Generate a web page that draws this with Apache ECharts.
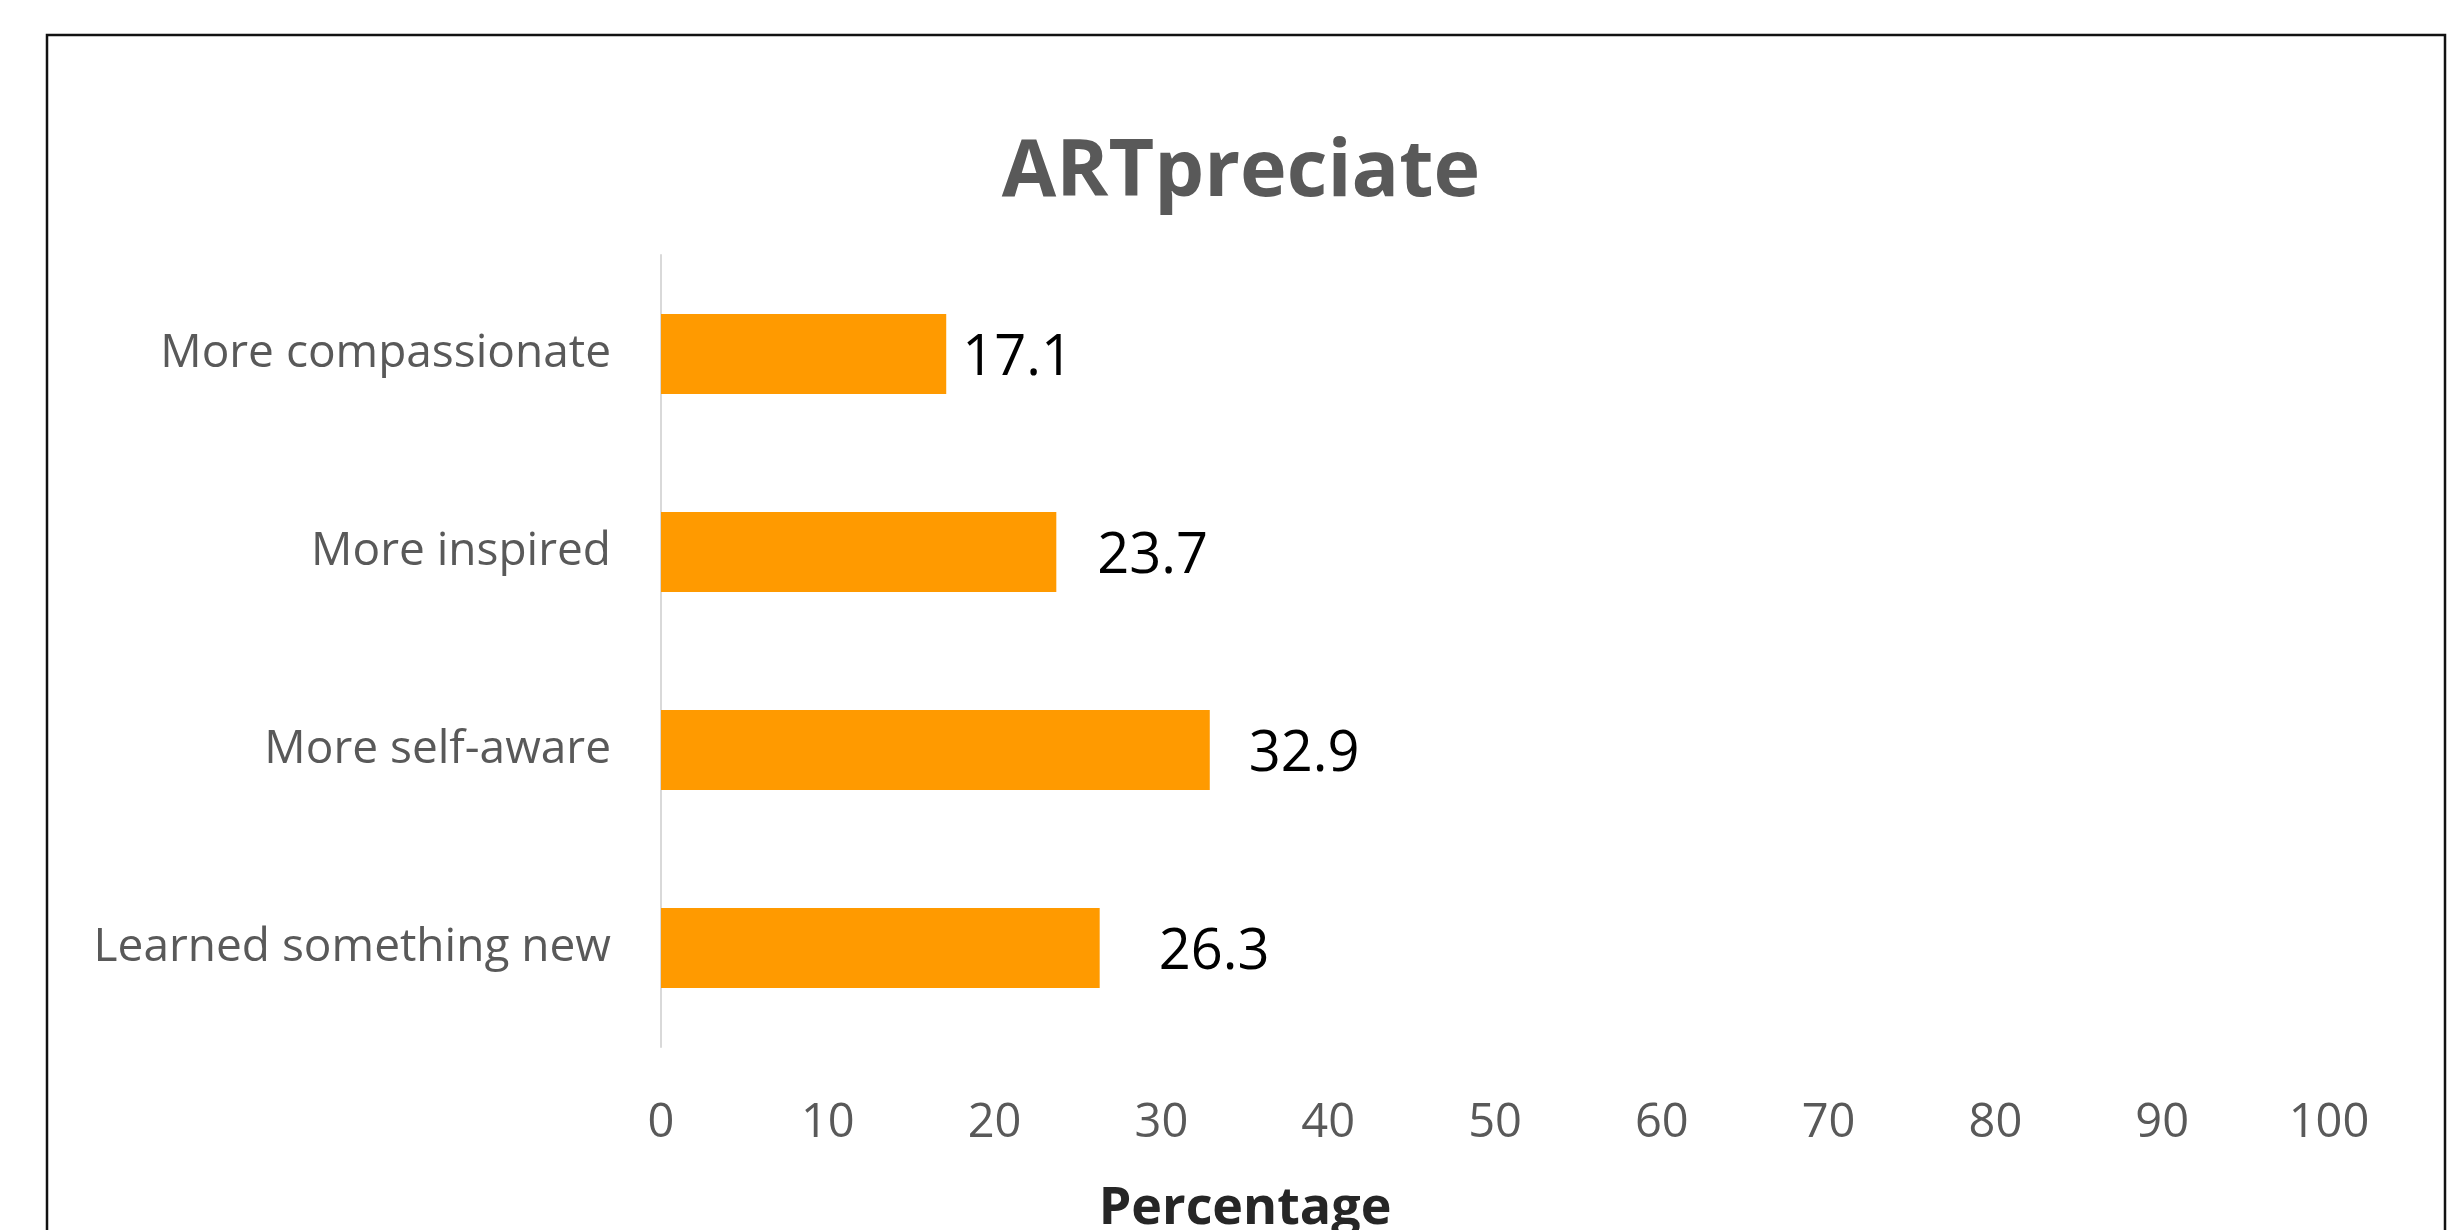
<!DOCTYPE html>
<html>
<head>
<meta charset="utf-8">
<script src="https://cdn.jsdelivr.net/npm/echarts@6/dist/echarts.min.js"></script>
<style>
  html, body { margin: 0; padding: 0; background: #fff; }
  #chart { width: 2462px; height: 1230px; }
</style>
</head>
<body>
<div id="chart"></div>
<script>
  'use strict';

  // data, top to bottom as in the picture
  const categories = ['More compassionate', 'More inspired', 'More self-aware', 'Learned something new'];
  const percentages = [17.1, 23.7, 32.9, 26.3];
  const xTicks = [0, 100, 10]; // min, max, step

  // gap between bar end and its value label (labels were moved by hand)
  const labelGaps = [16, 41, 39, 59];

  const font = '"Open Sans", "Noto Sans", sans-serif';
  const chart = echarts.init(document.getElementById('chart'), null, { renderer: 'canvas' });

  chart.setOption({
    animation: false,
    backgroundColor: '#fff',
    textStyle: { fontFamily: font },
    title: {
      text: 'ARTpreciate',
      left: 1236,
      top: 129,
      textAlign: 'center',
      textStyle: { fontFamily: font, fontSize: 79, fontWeight: 'bold', color: '#595959' }
    },
    graphic: [
      {
        type: 'rect',
        shape: { x: 47, y: 35, width: 2398, height: 1300 },
        style: { fill: 'none', stroke: '#111', lineWidth: 2.5 },
        silent: true
      },
      {
        type: 'text',
        x: 1245,
        y: 1183,
        style: {
          text: 'Percentage',
          fontFamily: font,
          fontSize: 52,
          fontWeight: 'bold',
          fill: '#262626',
          textAlign: 'center',
          textVerticalAlign: 'top'
        }
      }
    ],
    grid: { left: 661, right: 133, top: 255, bottom: 183, containLabel: false },
    xAxis: {
      type: 'value',
      min: xTicks[0],
      max: xTicks[1],
      interval: xTicks[2],
      axisLine: { show: false },
      axisTick: { show: false },
      splitLine: { show: false },
      axisLabel: { fontFamily: font, fontSize: 47, color: '#595959', margin: 53 }
    },
    yAxis: {
      type: 'category',
      inverse: true,
      data: categories,
      axisLine: { show: true, lineStyle: { color: '#d9d9d9', width: 2 } },
      axisTick: { show: false },
      axisLabel: {
        fontFamily: font, fontSize: 46, color: '#595959', margin: 50,
        padding: [8, 0, 0, 0]
      }
    },
    series: [
      {
        type: 'bar',
        barWidth: 80,
        itemStyle: { color: '#ff9a00' },
        data: percentages.map((v, i) => ({
          value: v,
          label: { distance: labelGaps[i] }
        })),
        label: {
          show: true,
          position: 'right',
          offset: [0, 5],
          fontFamily: font,
          fontSize: 56,
          color: '#000'
        }
      }
    ]
  });
</script>
</body>
</html>
